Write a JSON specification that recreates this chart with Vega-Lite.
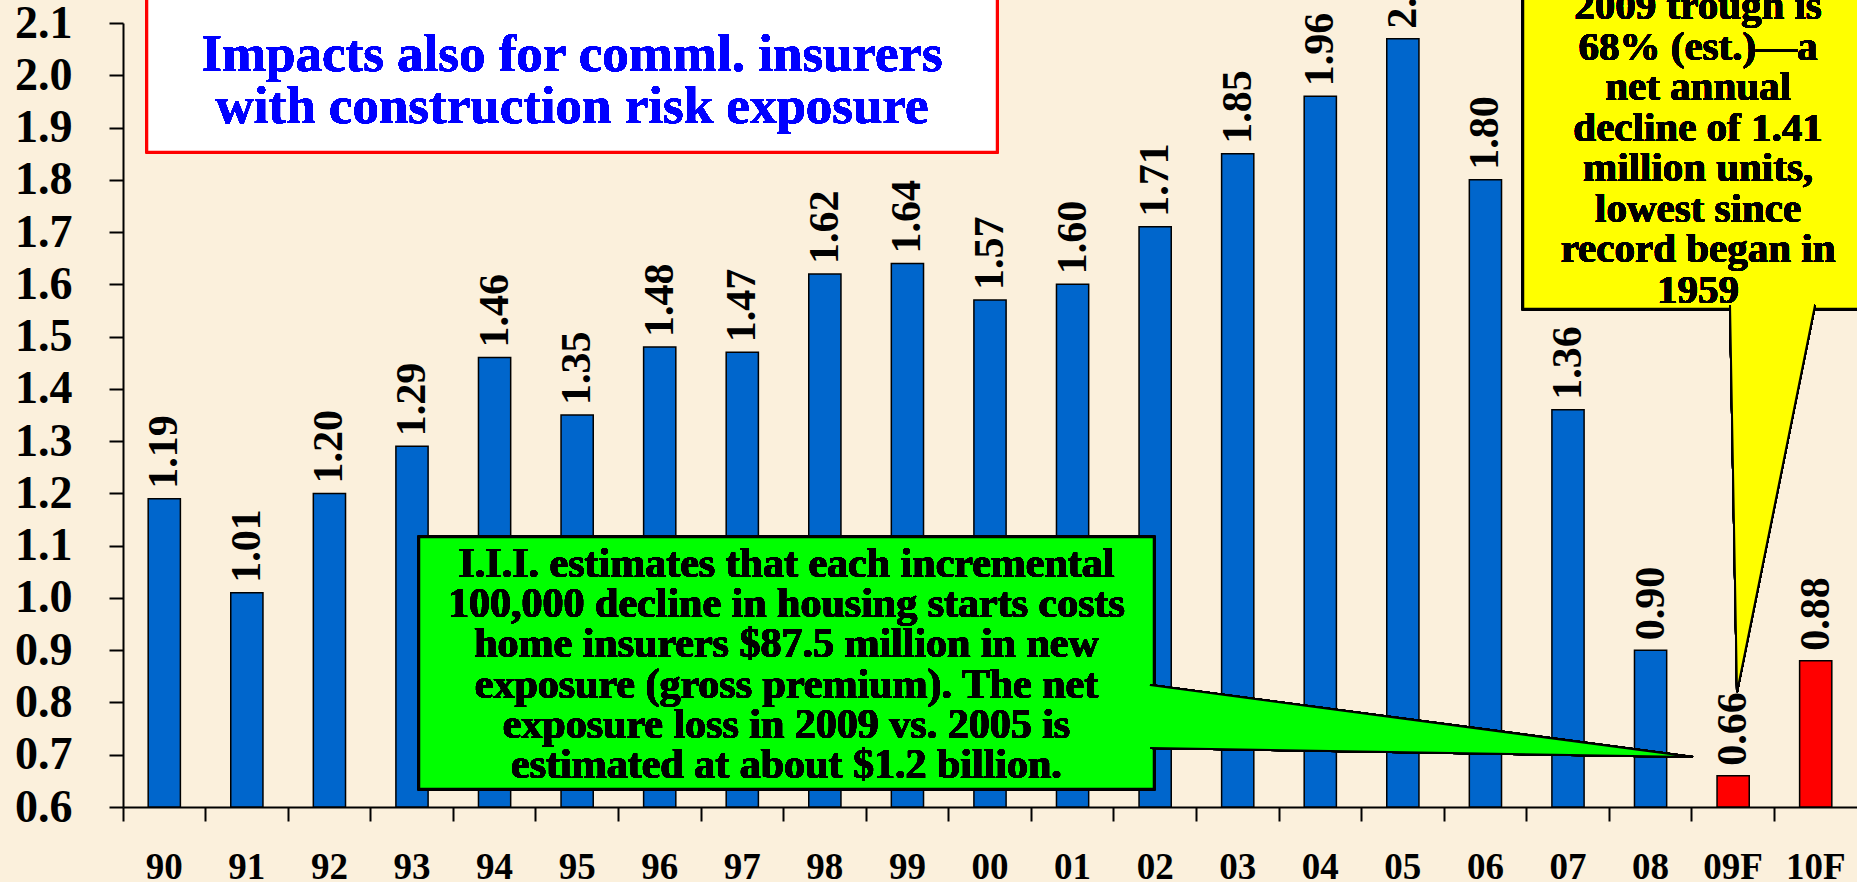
{
  "$schema": "https://vega.github.io/schema/vega-lite/v6.json",
  "width": 1734,
  "height": 784,
  "autosize": {"type": "none"},
  "padding": {"left": 123, "top": 23, "right": 0, "bottom": 75},
  "background": "#FBF0DC",
  "config": {
    "view": {"stroke": null}
  },
  "data": {
    "values": [
      {"year": "90", "starts": 1.19, "type": "Actual"},
      {"year": "91", "starts": 1.01, "type": "Actual"},
      {"year": "92", "starts": 1.20, "type": "Actual"},
      {"year": "93", "starts": 1.29, "type": "Actual"},
      {"year": "94", "starts": 1.46, "type": "Actual"},
      {"year": "95", "starts": 1.35, "type": "Actual"},
      {"year": "96", "starts": 1.48, "type": "Actual"},
      {"year": "97", "starts": 1.47, "type": "Actual"},
      {"year": "98", "starts": 1.62, "type": "Actual"},
      {"year": "99", "starts": 1.64, "type": "Actual"},
      {"year": "00", "starts": 1.57, "type": "Actual"},
      {"year": "01", "starts": 1.60, "type": "Actual"},
      {"year": "02", "starts": 1.71, "type": "Actual"},
      {"year": "03", "starts": 1.85, "type": "Actual"},
      {"year": "04", "starts": 1.96, "type": "Actual"},
      {"year": "05", "starts": 2.07, "type": "Actual"},
      {"year": "06", "starts": 1.80, "type": "Actual"},
      {"year": "07", "starts": 1.36, "type": "Actual"},
      {"year": "08", "starts": 0.90, "type": "Actual"},
      {"year": "09F", "starts": 0.66, "type": "Forecast"},
      {"year": "10F", "starts": 0.88, "type": "Forecast"}
    ]
  },
  "layer": [
    {
      "mark": {"type": "bar", "width": {"band": 0.39}, "stroke": "#000000", "strokeWidth": 1.5},
      "encoding": {
        "x": {
          "field": "year", "type": "nominal", "sort": null,
          "scale": {"paddingInner": 0, "paddingOuter": 0},
          "axis": {
            "title": null, "labelFont": "Liberation Serif", "labelFontWeight": "bold", "labelColor": "#000000",
            "labelFontSize": 37, "labelPadding": 28, "labelAngle": 0, "bandPosition": 0,
            "domainColor": "#000000", "domainWidth": 2, "tickColor": "#000000", "tickWidth": 2, "tickSize": 14, "grid": false
          }
        },
        "y": {
          "field": "starts", "type": "quantitative",
          "scale": {"domain": [0.6, 2.1], "nice": false, "zero": false},
          "axis": {
            "title": null, "labelFont": "Liberation Serif", "labelFontWeight": "bold", "labelColor": "#000000",
            "values": [0.6, 0.7, 0.8, 0.9, 1.0, 1.1, 1.2, 1.3, 1.4, 1.5, 1.6, 1.7, 1.8, 1.9, 2.0, 2.1],
            "format": ".1f", "labelFontSize": 46, "labelPadding": 37,
            "domainColor": "#000000", "domainWidth": 2, "tickColor": "#000000", "tickWidth": 2, "tickSize": 14, "grid": false
          }
        },
        "y2": {"datum": 0.6},
        "color": {
          "field": "type", "type": "nominal",
          "scale": {"domain": ["Actual", "Forecast"], "range": ["#0066CC", "#FF0000"]},
          "legend": null
        }
      }
    },
    {
      "mark": {"type": "text", "angle": 270, "align": "left", "baseline": "middle", "dx": 10,
               "font": "Liberation Serif", "fontWeight": "bold", "fontSize": 42, "color": "#000000"},
      "encoding": {
        "x": {"field": "year", "type": "nominal", "sort": null, "axis": null},
        "y": {"field": "starts", "type": "quantitative"},
        "text": {"field": "starts", "type": "quantitative", "format": ".2f"}
      }
    },
    {
      "mark": {"type": "rect", "fill": "#FFFFFF", "stroke": "#FF0000", "strokeWidth": 2.5},
      "encoding": {
        "x": {"datum": 0.291, "type": "quantitative", "scale": {"domain": [0, 21], "nice": false, "zero": false}, "axis": null},
        "x2": {"datum": 10.585},
        "y": {"datum": 2.163, "type": "quantitative"},
        "y2": {"datum": 1.853}
      }
    },
    {
      "mark": {"type": "text", "align": "center", "baseline": "alphabetic", "lineHeight": 52,
               "font": "Liberation Serif", "fontWeight": "bold", "fontSize": 53, "color": "#0000FF",
               "text": ["Impacts also for comml. insurers", "with construction risk exposure"]},
      "encoding": {
        "x": {"datum": 5.438, "type": "quantitative", "scale": {"domain": [0, 21], "nice": false, "zero": false}, "axis": null},
        "y": {"datum": 2.008, "type": "quantitative"}
      }
    },
    {
      "mark": {"type": "rect", "fill": "#00FF00", "stroke": "#000000", "strokeWidth": 2.5},
      "encoding": {
        "x": {"datum": 3.585, "type": "quantitative", "scale": {"domain": [0, 21], "nice": false, "zero": false}, "axis": null},
        "x2": {"datum": 12.486},
        "y": {"datum": 1.1166, "type": "quantitative"},
        "y2": {"datum": 0.6344}
      }
    },
    {
      "mark": {"type": "point", "shape": "M -0.998 -0.1324 L 0.998 0.1324 L -0.998 0.0993",
               "size": 295936, "filled": true, "fill": "#00FF00", "stroke": "#000000", "strokeWidth": 2, "opacity": 1},
      "encoding": {
        "x": {"datum": 15.726, "type": "quantitative", "scale": {"domain": [0, 21], "nice": false, "zero": false}, "axis": null},
        "y": {"datum": 0.7645, "type": "quantitative"}
      }
    },
    {
      "mark": {"type": "text", "align": "center", "baseline": "alphabetic", "lineHeight": 40.2,
               "font": "Liberation Serif", "fontWeight": "bold", "fontSize": 42, "color": "#000000",
               "text": ["I.I.I. estimates that each incremental", "100,000 decline in housing starts costs", "home insurers $87.5 million in new", "exposure (gross premium).  The net", "exposure loss in 2009 vs. 2005 is", "estimated at about $1.2 billion."]},
      "encoding": {
        "x": {"datum": 8.035, "type": "quantitative", "scale": {"domain": [0, 21], "nice": false, "zero": false}, "axis": null},
        "y": {"datum": 1.04, "type": "quantitative"}
      }
    },
    {
      "mark": {"type": "rect", "fill": "#FFFF00", "stroke": "#000000", "strokeWidth": 2.5},
      "encoding": {
        "x": {"datum": 16.955, "type": "quantitative", "scale": {"domain": [0, 21], "nice": false, "zero": false}, "axis": null},
        "x2": {"datum": 21.2},
        "y": {"datum": 2.163, "type": "quantitative"},
        "y2": {"datum": 1.5528}
      }
    },
    {
      "mark": {"type": "point", "shape": "M -0.2191 -0.9974 L -0.1830 0.9974 L 0.2191 -0.9974",
               "size": 150544, "filled": true, "fill": "#FFFF00", "stroke": "#000000", "strokeWidth": 2, "opacity": 1},
      "encoding": {
        "x": {"datum": 19.977, "type": "quantitative", "scale": {"domain": [0, 21], "nice": false, "zero": false}, "axis": null},
        "y": {"datum": 1.1902, "type": "quantitative"}
      }
    },
    {
      "mark": {"type": "text", "align": "center", "baseline": "alphabetic", "lineHeight": 40.5,
               "font": "Liberation Serif", "fontWeight": "bold", "fontSize": 41, "color": "#000000",
               "text": ["2009 trough is", "68% (est.)—a", "net annual", "decline of 1.41", "million units,", "lowest since", "record began in", "1959"]},
      "encoding": {
        "x": {"datum": 19.075, "type": "quantitative", "scale": {"domain": [0, 21], "nice": false, "zero": false}, "axis": null},
        "y": {"datum": 2.1067, "type": "quantitative"}
      }
    }
  ],
  "resolve": {"scale": {"x": "independent"}}
}
